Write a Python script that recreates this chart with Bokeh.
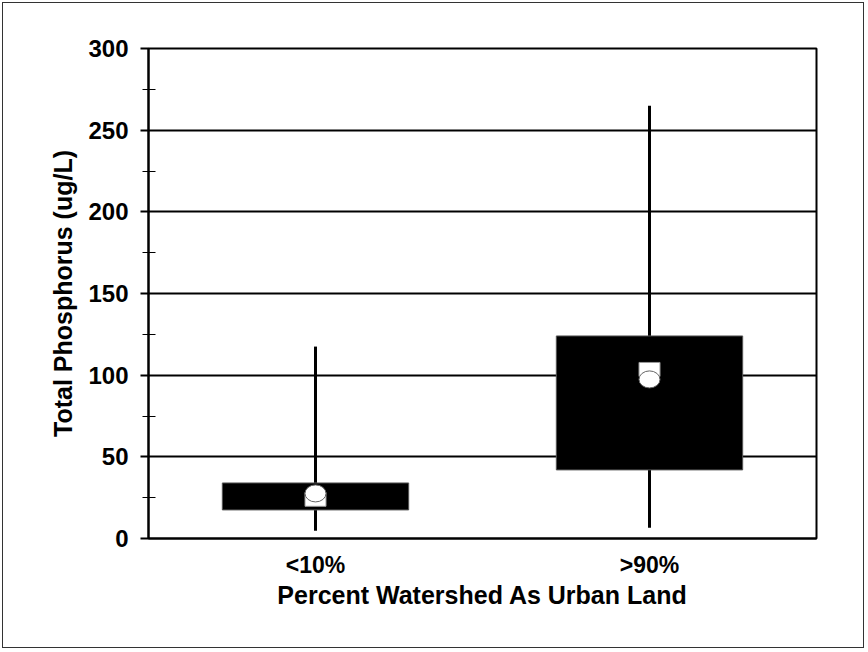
from bokeh.plotting import figure
from bokeh.models import SingleIntervalTicker, Range1d, FactorRange
from bokeh.embed import file_html
from bokeh.resources import INLINE

categories = ["<10%", ">90%"]
q1 = [17.5, 42.0]
q3 = [34.0, 124.0]
whisk_low = [4.8, 6.6]
whisk_high = [117.5, 265.0]
median = [24.0, 103.5]
mean = [27.6, 97.4]
y_ticks = [0, 50, 100, 150, 200, 250, 300]

FONT = "Liberation Sans"

p = figure(x_range=FactorRange(*categories, range_padding=0.0),
           y_range=Range1d(0, 300),
           width=862, height=646, output_backend="svg", toolbar_location=None,
           min_border_left=145, min_border_top=45, min_border_right=49, min_border_bottom=111)
p.styles = {"position": "absolute", "left": "2px", "top": "2px", "border": "1px solid #333"}

p.x_range.range_padding = 0
p.outline_line_color = "black"
p.outline_line_width = 2
p.background_fill_color = "white"
p.border_fill_color = "white"

# grid
p.xgrid.grid_line_color = None
p.ygrid.grid_line_color = "black"
p.ygrid.grid_line_width = 2

# y axis
p.yaxis.ticker = SingleIntervalTicker(interval=50, num_minor_ticks=2)
p.yaxis.axis_line_width = 2
p.yaxis.axis_line_color = "black"
p.yaxis.major_tick_line_width = 2
p.yaxis.major_tick_out = 8
p.yaxis.major_tick_in = 0
p.yaxis.minor_tick_line_width = 1
p.yaxis.minor_tick_out = 6
p.yaxis.minor_tick_in = 7
p.yaxis.major_label_standoff = 12
p.yaxis.major_label_text_font = FONT
p.yaxis.major_label_text_font_style = "bold"
p.yaxis.major_label_text_font_size = "24px"
p.yaxis.major_label_text_color = "black"
p.yaxis.axis_label = "Total Phosphorus (ug/L)"
p.yaxis.axis_label_text_font = FONT
p.yaxis.axis_label_text_font_style = "bold"
p.yaxis.axis_label_text_font_size = "25px"
p.yaxis.axis_label_text_color = "black"
p.yaxis.axis_label_standoff = 8

# x axis
p.xaxis.axis_line_width = 2
p.xaxis.axis_line_color = "black"
p.xaxis.major_tick_line_color = None
p.xaxis.major_tick_out = 0
p.xaxis.major_tick_in = 0
p.xaxis.minor_tick_line_color = None
p.xaxis.major_label_standoff = 13
p.xaxis.major_label_text_font = FONT
p.xaxis.major_label_text_font_style = "bold"
p.xaxis.major_label_text_font_size = "23px"
p.xaxis.major_label_text_color = "black"
p.xaxis.axis_label = "Percent Watershed As Urban Land"
p.xaxis.axis_label_text_font = FONT
p.xaxis.axis_label_text_font_style = "bold"
p.xaxis.axis_label_text_font_size = "25px"
p.xaxis.axis_label_text_color = "black"
p.xaxis.axis_label_standoff = 0

# whiskers
p.segment(x0=categories, y0=whisk_low, x1=categories, y1=whisk_high,
          line_color="black", line_width=3)
# boxes
p.vbar(x=categories, bottom=q1, top=q3, width=0.558,
       fill_color="black", line_color="#555555", line_width=1)
# median squares
p.rect(x=categories, y=median, width=21, height=14,
       width_units="screen", height_units="screen",
       fill_color="white", line_color="#999999", line_width=1)
# mean circles
p.ellipse(x=categories, y=mean, width=21, height=17,
          width_units="screen", height_units="screen",
          fill_color="white", line_color="#666666", line_width=1)

open("out.html", "w").write(file_html(p, INLINE))
